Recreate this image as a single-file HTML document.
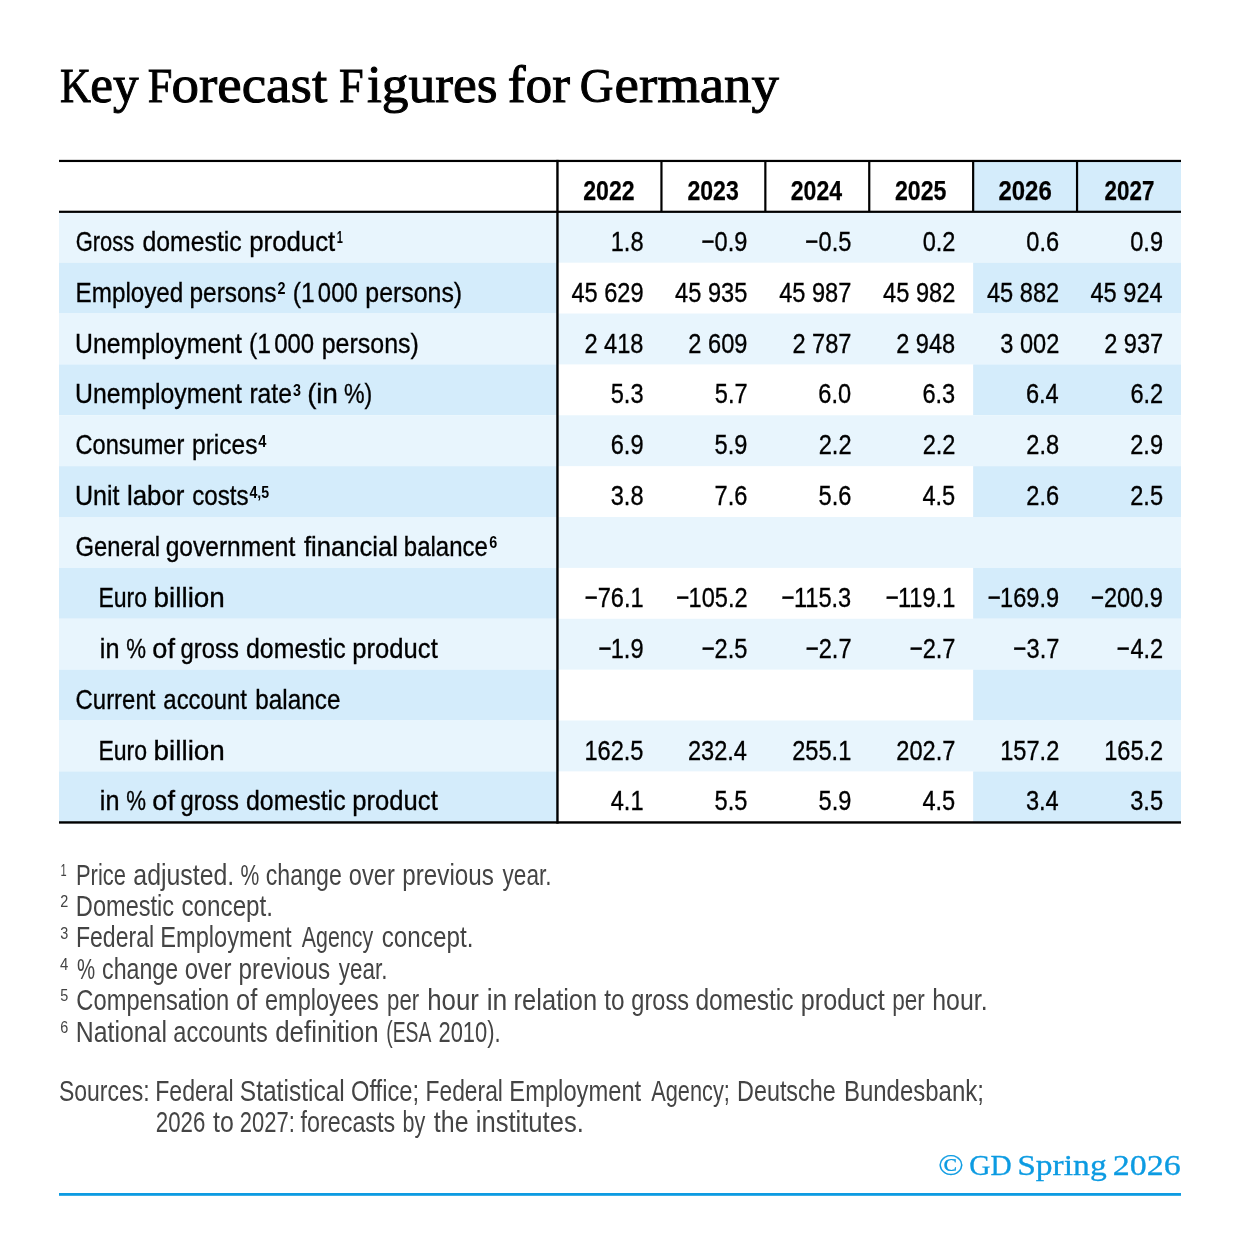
<!DOCTYPE html>
<html lang="en"><head><meta charset="utf-8"><title>Key Forecast Figures for Germany</title>
<style>
html,body{margin:0;padding:0;background:#fff}
body{width:1240px;height:1252px;position:relative;overflow:hidden;font-family:"Liberation Sans",sans-serif}
.b,.t{position:absolute}
.t{left:0;top:0;white-space:pre;line-height:0;height:0;transform-origin:0 0;color:#000}
.s{font-family:"Liberation Serif",serif}
#tx{position:absolute;left:0;top:0;width:1240px;height:1252px;will-change:transform}
</style></head><body>
<svg class="b" style="left:0;top:0" width="1240" height="1252" viewBox="0 0 1240 1252">
<rect x="973.15" y="160.95" width="207.85" height="50.85" fill="#d4ecfb"/>
<rect x="59" y="211.8" width="1122" height="50.87" fill="#e8f5fd"/>
<rect x="59" y="262.67" width="498.45" height="50.87" fill="#d4ecfb"/>
<rect x="973.15" y="262.67" width="207.85" height="50.87" fill="#d4ecfb"/>
<rect x="59" y="313.54" width="1122" height="50.87" fill="#e8f5fd"/>
<rect x="59" y="364.41" width="498.45" height="50.87" fill="#d4ecfb"/>
<rect x="973.15" y="364.41" width="207.85" height="50.87" fill="#d4ecfb"/>
<rect x="59" y="415.28" width="1122" height="50.87" fill="#e8f5fd"/>
<rect x="59" y="466.15" width="498.45" height="50.87" fill="#d4ecfb"/>
<rect x="973.15" y="466.15" width="207.85" height="50.87" fill="#d4ecfb"/>
<rect x="59" y="517.02" width="1122" height="50.87" fill="#e8f5fd"/>
<rect x="59" y="567.89" width="498.45" height="50.87" fill="#d4ecfb"/>
<rect x="973.15" y="567.89" width="207.85" height="50.87" fill="#d4ecfb"/>
<rect x="59" y="618.76" width="1122" height="50.87" fill="#e8f5fd"/>
<rect x="59" y="669.63" width="498.45" height="50.87" fill="#d4ecfb"/>
<rect x="973.15" y="669.63" width="207.85" height="50.87" fill="#d4ecfb"/>
<rect x="59" y="720.5" width="1122" height="50.87" fill="#e8f5fd"/>
<rect x="59" y="771.37" width="498.45" height="51.08" fill="#d4ecfb"/>
<rect x="973.15" y="771.37" width="207.85" height="51.08" fill="#d4ecfb"/>
<rect x="59" y="159.85" width="1122" height="2.2" fill="#000"/>
<rect x="59" y="210.7" width="1122" height="2.2" fill="#000"/>
<rect x="59" y="821.25" width="1122" height="2.4" fill="#000"/>
<rect x="556.25" y="159.85" width="2.4" height="663.8" fill="#000"/>
<rect x="660.35" y="160.95" width="2.2" height="50.85" fill="#000"/>
<rect x="764.25" y="160.95" width="2.2" height="50.85" fill="#000"/>
<rect x="868.15" y="160.95" width="2.2" height="50.85" fill="#000"/>
<rect x="972.05" y="160.95" width="2.2" height="50.85" fill="#000"/>
<rect x="1075.95" y="160.95" width="2.2" height="50.85" fill="#000"/>
<rect x="59" y="1193" width="1122" height="2.8" fill="#0c9be2"/>
</svg>
<div id="tx">
<div class="t s" style="font-size:48.2px;-webkit-text-stroke:0.9px currentColor;transform:translate(59.91px,86px) scaleX(0.8919)"><span class="v">K</span></div>
<div class="t s" style="font-size:48.2px;-webkit-text-stroke:0.9px currentColor;transform:translate(90.31px,84.24px) scale(1.0621,1.11)"><span class="v">ey</span></div>
<div class="t s" style="font-size:48.2px;-webkit-text-stroke:0.9px currentColor;transform:translate(147.83px,86px) scaleX(0.9184)"><span class="v">F</span></div>
<div class="t s" style="font-size:48.2px;-webkit-text-stroke:0.9px currentColor;transform:translate(171.57px,84.24px) scale(1.1402,1.11)"><span class="v">orecast</span></div>
<div class="t s" style="font-size:48.2px;-webkit-text-stroke:0.9px currentColor;transform:translate(339.08px,86px) scaleX(0.9184)"><span class="v">F</span></div>
<div class="t s" style="font-size:48.2px;-webkit-text-stroke:0.9px currentColor;transform:translate(366.95px,84.24px) scale(1.1099,1.11)"><span class="v">igures</span></div>
<div class="t s" style="font-size:48.2px;-webkit-text-stroke:0.9px currentColor;transform:translate(507.64px,84.24px) scale(1.1086,1.11)"><span class="v">for</span></div>
<div class="t s" style="font-size:48.2px;-webkit-text-stroke:0.9px currentColor;transform:translate(579.8px,86px) scaleX(0.9690)"><span class="v">G</span></div>
<div class="t s" style="font-size:48.2px;-webkit-text-stroke:0.9px currentColor;transform:translate(614.54px,84.24px) scale(1.1379,1.11)"><span class="v">ermany</span></div>
<div class="t" style="font-size:28.5px;font-weight:700;-webkit-text-stroke:0.25px currentColor;transform:translate(583.19px,190px) scaleX(0.8113)"><span class="v">2022</span></div>
<div class="t" style="font-size:28.5px;font-weight:700;-webkit-text-stroke:0.25px currentColor;transform:translate(687.39px,190px) scaleX(0.8097)"><span class="v">2023</span></div>
<div class="t" style="font-size:28.5px;font-weight:700;-webkit-text-stroke:0.25px currentColor;transform:translate(790.79px,190px) scaleX(0.8096)"><span class="v">2024</span></div>
<div class="t" style="font-size:28.5px;font-weight:700;-webkit-text-stroke:0.25px currentColor;transform:translate(894.94px,190px) scaleX(0.8113)"><span class="v">2025</span></div>
<div class="t" style="font-size:28.5px;font-weight:700;-webkit-text-stroke:0.25px currentColor;transform:translate(998.47px,190px) scaleX(0.8405)"><span class="v">2026</span></div>
<div class="t" style="font-size:28.5px;font-weight:700;-webkit-text-stroke:0.25px currentColor;transform:translate(1104.61px,190px) scaleX(0.7854)"><span class="v">2027</span></div>
<div class="t" style="font-size:28.5px;-webkit-text-stroke:0.35px currentColor;transform:translate(75.64px,241px) scaleX(0.7689)"><span class="v">Gross</span></div>
<div class="t" style="font-size:28.5px;-webkit-text-stroke:0.35px currentColor;transform:translate(142.53px,241px) scaleX(0.8702)"><span class="v">domestic</span></div>
<div class="t" style="font-size:28.5px;-webkit-text-stroke:0.35px currentColor;transform:translate(249.24px,241px) scaleX(0.9048)"><span class="v">product</span></div>
<div class="t" style="font-size:16.2px;font-weight:700;transform:translate(336.72px,237px) scaleX(0.6800)"><span class="v">1</span></div>
<div class="t" style="font-size:28.5px;-webkit-text-stroke:0.35px currentColor;transform:translate(75.59px,292px) scaleX(0.8497)"><span class="v">Employed</span></div>
<div class="t" style="font-size:28.5px;-webkit-text-stroke:0.35px currentColor;transform:translate(189.41px,292px) scaleX(0.8586)"><span class="v">persons</span></div>
<div class="t" style="font-size:16.2px;font-weight:700;transform:translate(277.46px,288px) scaleX(0.8875)"><span class="v">2</span></div>
<div class="t" style="font-size:28.5px;-webkit-text-stroke:0.35px currentColor;transform:translate(292.7px,292px) scaleX(0.8659)"><span class="v">(1</span></div>
<div class="t" style="font-size:28.5px;-webkit-text-stroke:0.35px currentColor;transform:translate(317.86px,292px) scaleX(0.8372)"><span class="v">000</span></div>
<div class="t" style="font-size:28.5px;-webkit-text-stroke:0.35px currentColor;transform:translate(365.29px,292px) scaleX(0.8733)"><span class="v">persons)</span></div>
<div class="t" style="font-size:28.5px;-webkit-text-stroke:0.35px currentColor;transform:translate(75.06px,343px) scaleX(0.8706)"><span class="v">Unemployment</span></div>
<div class="t" style="font-size:28.5px;-webkit-text-stroke:0.35px currentColor;transform:translate(248.99px,343px) scaleX(0.8703)"><span class="v">(1</span></div>
<div class="t" style="font-size:28.5px;-webkit-text-stroke:0.35px currentColor;transform:translate(274.16px,343px) scaleX(0.8393)"><span class="v">000</span></div>
<div class="t" style="font-size:28.5px;-webkit-text-stroke:0.35px currentColor;transform:translate(321.69px,343px) scaleX(0.8761)"><span class="v">persons)</span></div>
<div class="t" style="font-size:28.5px;-webkit-text-stroke:0.35px currentColor;transform:translate(75.06px,393px) scaleX(0.8706)"><span class="v">Unemployment</span></div>
<div class="t" style="font-size:28.5px;-webkit-text-stroke:0.35px currentColor;transform:translate(249.39px,393px) scaleX(0.8649)"><span class="v">rate</span></div>
<div class="t" style="font-size:16.2px;font-weight:700;transform:translate(292.98px,390px) scaleX(0.8848)"><span class="v">3</span></div>
<div class="t" style="font-size:28.5px;-webkit-text-stroke:0.35px currentColor;transform:translate(307.15px,393px) scaleX(0.9684)"><span class="v">(in</span></div>
<div class="t" style="font-size:28.5px;-webkit-text-stroke:0.35px currentColor;transform:translate(343.89px,393px) scaleX(0.8123)"><span class="v">%)</span></div>
<div class="t" style="font-size:28.5px;-webkit-text-stroke:0.35px currentColor;transform:translate(75.57px,444px) scaleX(0.8269)"><span class="v">Consumer</span></div>
<div class="t" style="font-size:28.5px;-webkit-text-stroke:0.35px currentColor;transform:translate(192.01px,444px) scaleX(0.8610)"><span class="v">prices</span></div>
<div class="t" style="font-size:16.2px;font-weight:700;transform:translate(258.27px,441px) scaleX(0.9029)"><span class="v">4</span></div>
<div class="t" style="font-size:28.5px;-webkit-text-stroke:0.35px currentColor;transform:translate(75.04px,495px) scaleX(0.8779)"><span class="v">Unit</span></div>
<div class="t" style="font-size:28.5px;-webkit-text-stroke:0.35px currentColor;transform:translate(126.91px,495px) scaleX(0.9078)"><span class="v">labor</span></div>
<div class="t" style="font-size:28.5px;-webkit-text-stroke:0.35px currentColor;transform:translate(192.15px,495px) scaleX(0.8479)"><span class="v">costs</span></div>
<div class="t" style="font-size:16.2px;font-weight:700;transform:translate(249.38px,492px) scaleX(0.8736)"><span class="v">4,5</span></div>
<div class="t" style="font-size:28.5px;-webkit-text-stroke:0.35px currentColor;transform:translate(75.46px,546px) scaleX(0.8345)"><span class="v">General</span></div>
<div class="t" style="font-size:28.5px;-webkit-text-stroke:0.35px currentColor;transform:translate(165.64px,546px) scaleX(0.8615)"><span class="v">government</span></div>
<div class="t" style="font-size:28.5px;-webkit-text-stroke:0.35px currentColor;transform:translate(303.98px,546px) scaleX(0.8983)"><span class="v">financial</span></div>
<div class="t" style="font-size:28.5px;-webkit-text-stroke:0.35px currentColor;transform:translate(403.83px,546px) scaleX(0.8423)"><span class="v">balance</span></div>
<div class="t" style="font-size:16.2px;font-weight:700;transform:translate(489.16px,542px) scaleX(0.8875)"><span class="v">6</span></div>
<div class="t" style="font-size:28.5px;-webkit-text-stroke:0.35px currentColor;transform:translate(98.38px,597px) scaleX(0.8088)"><span class="v">Euro</span></div>
<div class="t" style="font-size:28.5px;-webkit-text-stroke:0.35px currentColor;transform:translate(153.49px,597px) scaleX(0.9799)"><span class="v">billion</span></div>
<div class="t" style="font-size:28.5px;-webkit-text-stroke:0.35px currentColor;transform:translate(99.85px,648px) scaleX(0.8853)"><span class="v">in</span></div>
<div class="t" style="font-size:28.5px;-webkit-text-stroke:0.35px currentColor;transform:translate(126.32px,648px) scaleX(0.7789)"><span class="v">%</span></div>
<div class="t" style="font-size:28.5px;-webkit-text-stroke:0.35px currentColor;transform:translate(152.35px,648px) scaleX(0.9522)"><span class="v">of</span></div>
<div class="t" style="font-size:28.5px;-webkit-text-stroke:0.35px currentColor;transform:translate(180.56px,648px) scaleX(0.8354)"><span class="v">gross</span></div>
<div class="t" style="font-size:28.5px;-webkit-text-stroke:0.35px currentColor;transform:translate(246.03px,648px) scaleX(0.8729)"><span class="v">domestic</span></div>
<div class="t" style="font-size:28.5px;-webkit-text-stroke:0.35px currentColor;transform:translate(352.35px,648px) scaleX(0.8984)"><span class="v">product</span></div>
<div class="t" style="font-size:28.5px;-webkit-text-stroke:0.35px currentColor;transform:translate(75.55px,699px) scaleX(0.8395)"><span class="v">Current</span></div>
<div class="t" style="font-size:28.5px;-webkit-text-stroke:0.35px currentColor;transform:translate(163.36px,699px) scaleX(0.8375)"><span class="v">account</span></div>
<div class="t" style="font-size:28.5px;-webkit-text-stroke:0.35px currentColor;transform:translate(255.31px,699px) scaleX(0.8526)"><span class="v">balance</span></div>
<div class="t" style="font-size:28.5px;-webkit-text-stroke:0.35px currentColor;transform:translate(98.38px,750px) scaleX(0.8088)"><span class="v">Euro</span></div>
<div class="t" style="font-size:28.5px;-webkit-text-stroke:0.35px currentColor;transform:translate(153.49px,750px) scaleX(0.9799)"><span class="v">billion</span></div>
<div class="t" style="font-size:28.5px;-webkit-text-stroke:0.35px currentColor;transform:translate(99.85px,800px) scaleX(0.8853)"><span class="v">in</span></div>
<div class="t" style="font-size:28.5px;-webkit-text-stroke:0.35px currentColor;transform:translate(126.32px,800px) scaleX(0.7789)"><span class="v">%</span></div>
<div class="t" style="font-size:28.5px;-webkit-text-stroke:0.35px currentColor;transform:translate(152.35px,800px) scaleX(0.9522)"><span class="v">of</span></div>
<div class="t" style="font-size:28.5px;-webkit-text-stroke:0.35px currentColor;transform:translate(180.56px,800px) scaleX(0.8354)"><span class="v">gross</span></div>
<div class="t" style="font-size:28.5px;-webkit-text-stroke:0.35px currentColor;transform:translate(246.03px,800px) scaleX(0.8729)"><span class="v">domestic</span></div>
<div class="t" style="font-size:28.5px;-webkit-text-stroke:0.35px currentColor;transform:translate(352.35px,800px) scaleX(0.8984)"><span class="v">product</span></div>
<div class="t" style="font-size:28.5px;-webkit-text-stroke:0.35px currentColor;transform:translate(610.72px,241px) scaleX(0.8280)"><span class="v">1.8</span></div>
<div class="t" style="font-size:28.5px;-webkit-text-stroke:0.35px currentColor;transform:translate(714.62px,241px) scaleX(0.8280)"><span class="v">0.9</span></div>
<div class="t" style="font-size:28.5px;-webkit-text-stroke:0.35px currentColor;transform:translate(701.46px,241px) scaleX(0.7930)"><span class="v">−</span></div>
<div class="t" style="font-size:28.5px;-webkit-text-stroke:0.35px currentColor;transform:translate(818.52px,241px) scaleX(0.8280)"><span class="v">0.5</span></div>
<div class="t" style="font-size:28.5px;-webkit-text-stroke:0.35px currentColor;transform:translate(805.36px,241px) scaleX(0.7930)"><span class="v">−</span></div>
<div class="t" style="font-size:28.5px;-webkit-text-stroke:0.35px currentColor;transform:translate(922.63px,241px) scaleX(0.8280)"><span class="v">0.2</span></div>
<div class="t" style="font-size:28.5px;-webkit-text-stroke:0.35px currentColor;transform:translate(1026.32px,241px) scaleX(0.8280)"><span class="v">0.6</span></div>
<div class="t" style="font-size:28.5px;-webkit-text-stroke:0.35px currentColor;transform:translate(1130.22px,241px) scaleX(0.8280)"><span class="v">0.9</span></div>
<div class="t" style="font-size:28.5px;-webkit-text-stroke:0.35px currentColor;transform:translate(571.39px,292px) scaleX(0.8280)"><span class="v">45 629</span></div>
<div class="t" style="font-size:28.5px;-webkit-text-stroke:0.35px currentColor;transform:translate(675.09px,292px) scaleX(0.8280)"><span class="v">45 935</span></div>
<div class="t" style="font-size:28.5px;-webkit-text-stroke:0.35px currentColor;transform:translate(779.19px,292px) scaleX(0.8280)"><span class="v">45 987</span></div>
<div class="t" style="font-size:28.5px;-webkit-text-stroke:0.35px currentColor;transform:translate(883.09px,292px) scaleX(0.8280)"><span class="v">45 982</span></div>
<div class="t" style="font-size:28.5px;-webkit-text-stroke:0.35px currentColor;transform:translate(986.99px,292px) scaleX(0.8280)"><span class="v">45 882</span></div>
<div class="t" style="font-size:28.5px;-webkit-text-stroke:0.35px currentColor;transform:translate(1090.48px,292px) scaleX(0.8280)"><span class="v">45 924</span></div>
<div class="t" style="font-size:28.5px;-webkit-text-stroke:0.35px currentColor;transform:translate(584.43px,343px) scaleX(0.8280)"><span class="v">2 418</span></div>
<div class="t" style="font-size:28.5px;-webkit-text-stroke:0.35px currentColor;transform:translate(688.33px,343px) scaleX(0.8280)"><span class="v">2 609</span></div>
<div class="t" style="font-size:28.5px;-webkit-text-stroke:0.35px currentColor;transform:translate(792.44px,343px) scaleX(0.8280)"><span class="v">2 787</span></div>
<div class="t" style="font-size:28.5px;-webkit-text-stroke:0.35px currentColor;transform:translate(896.13px,343px) scaleX(0.8280)"><span class="v">2 948</span></div>
<div class="t" style="font-size:28.5px;-webkit-text-stroke:0.35px currentColor;transform:translate(1000.24px,343px) scaleX(0.8280)"><span class="v">3 002</span></div>
<div class="t" style="font-size:28.5px;-webkit-text-stroke:0.35px currentColor;transform:translate(1104.14px,343px) scaleX(0.8280)"><span class="v">2 937</span></div>
<div class="t" style="font-size:28.5px;-webkit-text-stroke:0.35px currentColor;transform:translate(610.72px,393px) scaleX(0.8280)"><span class="v">5.3</span></div>
<div class="t" style="font-size:28.5px;-webkit-text-stroke:0.35px currentColor;transform:translate(714.83px,393px) scaleX(0.8280)"><span class="v">5.7</span></div>
<div class="t" style="font-size:28.5px;-webkit-text-stroke:0.35px currentColor;transform:translate(818.32px,393px) scaleX(0.8280)"><span class="v">6.0</span></div>
<div class="t" style="font-size:28.5px;-webkit-text-stroke:0.35px currentColor;transform:translate(922.42px,393px) scaleX(0.8280)"><span class="v">6.3</span></div>
<div class="t" style="font-size:28.5px;-webkit-text-stroke:0.35px currentColor;transform:translate(1025.91px,393px) scaleX(0.8280)"><span class="v">6.4</span></div>
<div class="t" style="font-size:28.5px;-webkit-text-stroke:0.35px currentColor;transform:translate(1130.43px,393px) scaleX(0.8280)"><span class="v">6.2</span></div>
<div class="t" style="font-size:28.5px;-webkit-text-stroke:0.35px currentColor;transform:translate(610.72px,444px) scaleX(0.8280)"><span class="v">6.9</span></div>
<div class="t" style="font-size:28.5px;-webkit-text-stroke:0.35px currentColor;transform:translate(714.62px,444px) scaleX(0.8280)"><span class="v">5.9</span></div>
<div class="t" style="font-size:28.5px;-webkit-text-stroke:0.35px currentColor;transform:translate(818.73px,444px) scaleX(0.8280)"><span class="v">2.2</span></div>
<div class="t" style="font-size:28.5px;-webkit-text-stroke:0.35px currentColor;transform:translate(922.63px,444px) scaleX(0.8280)"><span class="v">2.2</span></div>
<div class="t" style="font-size:28.5px;-webkit-text-stroke:0.35px currentColor;transform:translate(1026.32px,444px) scaleX(0.8280)"><span class="v">2.8</span></div>
<div class="t" style="font-size:28.5px;-webkit-text-stroke:0.35px currentColor;transform:translate(1130.22px,444px) scaleX(0.8280)"><span class="v">2.9</span></div>
<div class="t" style="font-size:28.5px;-webkit-text-stroke:0.35px currentColor;transform:translate(610.72px,495px) scaleX(0.8280)"><span class="v">3.8</span></div>
<div class="t" style="font-size:28.5px;-webkit-text-stroke:0.35px currentColor;transform:translate(714.62px,495px) scaleX(0.8280)"><span class="v">7.6</span></div>
<div class="t" style="font-size:28.5px;-webkit-text-stroke:0.35px currentColor;transform:translate(818.52px,495px) scaleX(0.8280)"><span class="v">5.6</span></div>
<div class="t" style="font-size:28.5px;-webkit-text-stroke:0.35px currentColor;transform:translate(922.42px,495px) scaleX(0.8280)"><span class="v">4.5</span></div>
<div class="t" style="font-size:28.5px;-webkit-text-stroke:0.35px currentColor;transform:translate(1026.32px,495px) scaleX(0.8280)"><span class="v">2.6</span></div>
<div class="t" style="font-size:28.5px;-webkit-text-stroke:0.35px currentColor;transform:translate(1130.22px,495px) scaleX(0.8280)"><span class="v">2.5</span></div>
<div class="t" style="font-size:28.5px;-webkit-text-stroke:0.35px currentColor;transform:translate(597.68px,597px) scaleX(0.8280)"><span class="v">76.1</span></div>
<div class="t" style="font-size:28.5px;-webkit-text-stroke:0.35px currentColor;transform:translate(584.72px,597px) scaleX(0.7930)"><span class="v">−</span></div>
<div class="t" style="font-size:28.5px;-webkit-text-stroke:0.35px currentColor;transform:translate(688.54px,597px) scaleX(0.8280)"><span class="v">105.2</span></div>
<div class="t" style="font-size:28.5px;-webkit-text-stroke:0.35px currentColor;transform:translate(676.2px,597px) scaleX(0.7930)"><span class="v">−</span></div>
<div class="t" style="font-size:28.5px;-webkit-text-stroke:0.35px currentColor;transform:translate(793.89px,597px) scaleX(0.8280)"><span class="v">115.3</span></div>
<div class="t" style="font-size:28.5px;-webkit-text-stroke:0.35px currentColor;transform:translate(781.55px,597px) scaleX(0.7930)"><span class="v">−</span></div>
<div class="t" style="font-size:28.5px;-webkit-text-stroke:0.35px currentColor;transform:translate(898px,597px) scaleX(0.8280)"><span class="v">119.1</span></div>
<div class="t" style="font-size:28.5px;-webkit-text-stroke:0.35px currentColor;transform:translate(885.66px,597px) scaleX(0.7930)"><span class="v">−</span></div>
<div class="t" style="font-size:28.5px;-webkit-text-stroke:0.35px currentColor;transform:translate(1000.03px,597px) scaleX(0.8280)"><span class="v">169.9</span></div>
<div class="t" style="font-size:28.5px;-webkit-text-stroke:0.35px currentColor;transform:translate(987.7px,597px) scaleX(0.7930)"><span class="v">−</span></div>
<div class="t" style="font-size:28.5px;-webkit-text-stroke:0.35px currentColor;transform:translate(1103.93px,597px) scaleX(0.8280)"><span class="v">200.9</span></div>
<div class="t" style="font-size:28.5px;-webkit-text-stroke:0.35px currentColor;transform:translate(1090.98px,597px) scaleX(0.7930)"><span class="v">−</span></div>
<div class="t" style="font-size:28.5px;-webkit-text-stroke:0.35px currentColor;transform:translate(610.72px,648px) scaleX(0.8280)"><span class="v">1.9</span></div>
<div class="t" style="font-size:28.5px;-webkit-text-stroke:0.35px currentColor;transform:translate(598.39px,648px) scaleX(0.7930)"><span class="v">−</span></div>
<div class="t" style="font-size:28.5px;-webkit-text-stroke:0.35px currentColor;transform:translate(714.62px,648px) scaleX(0.8280)"><span class="v">2.5</span></div>
<div class="t" style="font-size:28.5px;-webkit-text-stroke:0.35px currentColor;transform:translate(701.67px,648px) scaleX(0.7930)"><span class="v">−</span></div>
<div class="t" style="font-size:28.5px;-webkit-text-stroke:0.35px currentColor;transform:translate(818.73px,648px) scaleX(0.8280)"><span class="v">2.7</span></div>
<div class="t" style="font-size:28.5px;-webkit-text-stroke:0.35px currentColor;transform:translate(805.77px,648px) scaleX(0.7930)"><span class="v">−</span></div>
<div class="t" style="font-size:28.5px;-webkit-text-stroke:0.35px currentColor;transform:translate(922.63px,648px) scaleX(0.8280)"><span class="v">2.7</span></div>
<div class="t" style="font-size:28.5px;-webkit-text-stroke:0.35px currentColor;transform:translate(909.67px,648px) scaleX(0.7930)"><span class="v">−</span></div>
<div class="t" style="font-size:28.5px;-webkit-text-stroke:0.35px currentColor;transform:translate(1026.53px,648px) scaleX(0.8280)"><span class="v">3.7</span></div>
<div class="t" style="font-size:28.5px;-webkit-text-stroke:0.35px currentColor;transform:translate(1013.37px,648px) scaleX(0.7930)"><span class="v">−</span></div>
<div class="t" style="font-size:28.5px;-webkit-text-stroke:0.35px currentColor;transform:translate(1130.43px,648px) scaleX(0.8280)"><span class="v">4.2</span></div>
<div class="t" style="font-size:28.5px;-webkit-text-stroke:0.35px currentColor;transform:translate(1116.85px,648px) scaleX(0.7930)"><span class="v">−</span></div>
<div class="t" style="font-size:28.5px;-webkit-text-stroke:0.35px currentColor;transform:translate(584.43px,750px) scaleX(0.8280)"><span class="v">162.5</span></div>
<div class="t" style="font-size:28.5px;-webkit-text-stroke:0.35px currentColor;transform:translate(687.92px,750px) scaleX(0.8280)"><span class="v">232.4</span></div>
<div class="t" style="font-size:28.5px;-webkit-text-stroke:0.35px currentColor;transform:translate(792.23px,750px) scaleX(0.8280)"><span class="v">255.1</span></div>
<div class="t" style="font-size:28.5px;-webkit-text-stroke:0.35px currentColor;transform:translate(896.34px,750px) scaleX(0.8280)"><span class="v">202.7</span></div>
<div class="t" style="font-size:28.5px;-webkit-text-stroke:0.35px currentColor;transform:translate(1000.24px,750px) scaleX(0.8280)"><span class="v">157.2</span></div>
<div class="t" style="font-size:28.5px;-webkit-text-stroke:0.35px currentColor;transform:translate(1104.14px,750px) scaleX(0.8280)"><span class="v">165.2</span></div>
<div class="t" style="font-size:28.5px;-webkit-text-stroke:0.35px currentColor;transform:translate(610.72px,800px) scaleX(0.8280)"><span class="v">4.1</span></div>
<div class="t" style="font-size:28.5px;-webkit-text-stroke:0.35px currentColor;transform:translate(714.62px,800px) scaleX(0.8280)"><span class="v">5.5</span></div>
<div class="t" style="font-size:28.5px;-webkit-text-stroke:0.35px currentColor;transform:translate(818.52px,800px) scaleX(0.8280)"><span class="v">5.9</span></div>
<div class="t" style="font-size:28.5px;-webkit-text-stroke:0.35px currentColor;transform:translate(922.42px,800px) scaleX(0.8280)"><span class="v">4.5</span></div>
<div class="t" style="font-size:28.5px;-webkit-text-stroke:0.35px currentColor;transform:translate(1025.91px,800px) scaleX(0.8280)"><span class="v">3.4</span></div>
<div class="t" style="font-size:28.5px;-webkit-text-stroke:0.35px currentColor;transform:translate(1130.22px,800px) scaleX(0.8280)"><span class="v">3.5</span></div>
<div class="t" style="font-size:16.7px;color:#444;transform:translate(60.47px,871px) scaleX(0.6621)"><span class="v">1</span></div>
<div class="t" style="font-size:28.7px;color:#444;transform:translate(75.98px,875px) scaleX(0.7644)"><span class="v">Price</span></div>
<div class="t" style="font-size:28.7px;color:#444;transform:translate(133.32px,875px) scaleX(0.8667)"><span class="v">adjusted.</span></div>
<div class="t" style="font-size:28.7px;color:#444;transform:translate(240.56px,875px) scaleX(0.7362)"><span class="v">%</span></div>
<div class="t" style="font-size:28.7px;color:#444;transform:translate(265.79px,875px) scaleX(0.8076)"><span class="v">change</span></div>
<div class="t" style="font-size:28.7px;color:#444;transform:translate(348.87px,875px) scaleX(0.8241)"><span class="v">over</span></div>
<div class="t" style="font-size:28.7px;color:#444;transform:translate(402.32px,875px) scaleX(0.8444)"><span class="v">previous</span></div>
<div class="t" style="font-size:28.7px;color:#444;transform:translate(502.5px,875px) scaleX(0.7883)"><span class="v">year.</span></div>
<div class="t" style="font-size:16.7px;color:#444;transform:translate(60.35px,902px) scaleX(0.8645)"><span class="v">2</span></div>
<div class="t" style="font-size:28.7px;color:#444;transform:translate(75.85px,906px) scaleX(0.8223)"><span class="v">Domestic</span></div>
<div class="t" style="font-size:28.7px;color:#444;transform:translate(181.44px,906px) scaleX(0.8449)"><span class="v">concept.</span></div>
<div class="t" style="font-size:16.7px;color:#444;transform:translate(60.35px,934px) scaleX(0.8645)"><span class="v">3</span></div>
<div class="t" style="font-size:28.7px;color:#444;transform:translate(75.89px,937px) scaleX(0.8043)"><span class="v">Federal</span></div>
<div class="t" style="font-size:28.7px;color:#444;transform:translate(160.14px,937px) scaleX(0.8248)"><span class="v">Employment</span></div>
<div class="t" style="font-size:28.7px;color:#444;transform:translate(301.8px,937px) scaleX(0.7455)"><span class="v">Agency</span></div>
<div class="t" style="font-size:28.7px;color:#444;transform:translate(381.74px,937px) scaleX(0.8449)"><span class="v">concept.</span></div>
<div class="t" style="font-size:16.7px;color:#444;transform:translate(60.08px,965px) scaleX(0.8941)"><span class="v">4</span></div>
<div class="t" style="font-size:28.7px;color:#444;transform:translate(76.89px,969px) scaleX(0.7106)"><span class="v">%</span></div>
<div class="t" style="font-size:28.7px;color:#444;transform:translate(102.09px,969px) scaleX(0.8076)"><span class="v">change</span></div>
<div class="t" style="font-size:28.7px;color:#444;transform:translate(184.75px,969px) scaleX(0.8370)"><span class="v">over</span></div>
<div class="t" style="font-size:28.7px;color:#444;transform:translate(238.62px,969px) scaleX(0.8444)"><span class="v">previous</span></div>
<div class="t" style="font-size:28.7px;color:#444;transform:translate(338.8px,969px) scaleX(0.7833)"><span class="v">year.</span></div>
<div class="t" style="font-size:16.7px;color:#444;transform:translate(60.35px,996px) scaleX(0.8645)"><span class="v">5</span></div>
<div class="t" style="font-size:28.7px;color:#444;transform:translate(76.36px,1000px) scaleX(0.8264)"><span class="v">Compensation</span></div>
<div class="t" style="font-size:28.7px;color:#444;transform:translate(236.09px,1000px) scaleX(0.8879)"><span class="v">of</span></div>
<div class="t" style="font-size:28.7px;color:#444;transform:translate(264.98px,1000px) scaleX(0.8198)"><span class="v">employees</span></div>
<div class="t" style="font-size:28.7px;color:#444;transform:translate(387.04px,1000px) scaleX(0.7745)"><span class="v">per</span></div>
<div class="t" style="font-size:28.7px;color:#444;transform:translate(427.2px,1000px) scaleX(0.9000)"><span class="v">hour</span></div>
<div class="t" style="font-size:28.7px;color:#444;transform:translate(486.65px,1000px) scaleX(0.9243)"><span class="v">in</span></div>
<div class="t" style="font-size:28.7px;color:#444;transform:translate(513.62px,1000px) scaleX(0.8886)"><span class="v">relation</span></div>
<div class="t" style="font-size:28.7px;color:#444;transform:translate(604.18px,1000px) scaleX(0.8494)"><span class="v">to</span></div>
<div class="t" style="font-size:28.7px;color:#444;transform:translate(631.37px,1000px) scaleX(0.8206)"><span class="v">gross</span></div>
<div class="t" style="font-size:28.7px;color:#444;transform:translate(695.43px,1000px) scaleX(0.8550)"><span class="v">domestic</span></div>
<div class="t" style="font-size:28.7px;color:#444;transform:translate(800.76px,1000px) scaleX(0.8779)"><span class="v">product</span></div>
<div class="t" style="font-size:28.7px;color:#444;transform:translate(892.33px,1000px) scaleX(0.7847)"><span class="v">per</span></div>
<div class="t" style="font-size:28.7px;color:#444;transform:translate(932.26px,1000px) scaleX(0.8675)"><span class="v">hour.</span></div>
<div class="t" style="font-size:16.7px;color:#444;transform:translate(60.35px,1028px) scaleX(0.8645)"><span class="v">6</span></div>
<div class="t" style="font-size:28.7px;color:#444;transform:translate(75.75px,1032px) scaleX(0.8663)"><span class="v">National</span></div>
<div class="t" style="font-size:28.7px;color:#444;transform:translate(173.27px,1032px) scaleX(0.8222)"><span class="v">accounts</span></div>
<div class="t" style="font-size:28.7px;color:#444;transform:translate(275.17px,1032px) scaleX(0.9020)"><span class="v">definition</span></div>
<div class="t" style="font-size:28.7px;color:#444;transform:translate(386.22px,1032px) scaleX(0.6743)"><span class="v">(ESA</span></div>
<div class="t" style="font-size:28.7px;color:#444;transform:translate(438.45px,1032px) scaleX(0.7638)"><span class="v">2010).</span></div>
<div class="t" style="font-size:28.7px;color:#444;transform:translate(58.9px,1091px) scaleX(0.8009)"><span class="v">Sources:</span></div>
<div class="t" style="font-size:28.7px;color:#444;transform:translate(155.19px,1091px) scaleX(0.8054)"><span class="v">Federal</span></div>
<div class="t" style="font-size:28.7px;color:#444;transform:translate(239.83px,1091px) scaleX(0.8544)"><span class="v">Statistical</span></div>
<div class="t" style="font-size:28.7px;color:#444;transform:translate(350.96px,1091px) scaleX(0.8280)"><span class="v">Office;</span></div>
<div class="t" style="font-size:28.7px;color:#444;transform:translate(425.51px,1091px) scaleX(0.7957)"><span class="v">Federal</span></div>
<div class="t" style="font-size:28.7px;color:#444;transform:translate(509.34px,1091px) scaleX(0.8268)"><span class="v">Employment</span></div>
<div class="t" style="font-size:28.7px;color:#444;transform:translate(651.2px,1091px) scaleX(0.7584)"><span class="v">Agency;</span></div>
<div class="t" style="font-size:28.7px;color:#444;transform:translate(737.07px,1091px) scaleX(0.8136)"><span class="v">Deutsche</span></div>
<div class="t" style="font-size:28.7px;color:#444;transform:translate(843.92px,1091px) scaleX(0.8356)"><span class="v">Bundesbank;</span></div>
<div class="t" style="font-size:28.7px;color:#444;transform:translate(155.84px,1122px) scaleX(0.7754)"><span class="v">2026</span></div>
<div class="t" style="font-size:28.7px;color:#444;transform:translate(212.97px,1122px) scaleX(0.8674)"><span class="v">to</span></div>
<div class="t" style="font-size:28.7px;color:#444;transform:translate(239.75px,1122px) scaleX(0.7661)"><span class="v">2027:</span></div>
<div class="t" style="font-size:28.7px;color:#444;transform:translate(300.59px,1122px) scaleX(0.8122)"><span class="v">forecasts</span></div>
<div class="t" style="font-size:28.7px;color:#444;transform:translate(402.49px,1122px) scaleX(0.7509)"><span class="v">by</span></div>
<div class="t" style="font-size:28.7px;color:#444;transform:translate(433.86px,1122px) scaleX(0.8706)"><span class="v">the</span></div>
<div class="t" style="font-size:28.7px;color:#444;transform:translate(475.72px,1122px) scaleX(0.8918)"><span class="v">institutes.</span></div>
<div class="t s" style="font-size:30px;color:#0c9be2;-webkit-text-stroke:0.3px currentColor;transform:translate(938.29px,1165px) scaleX(1.1133)"><span class="v">©</span></div>
<div class="t s" style="font-size:30px;color:#0c9be2;-webkit-text-stroke:0.3px currentColor;transform:translate(969.32px,1165px) scaleX(0.9794)"><span class="v">GD</span></div>
<div class="t s" style="font-size:30px;color:#0c9be2;-webkit-text-stroke:0.3px currentColor;transform:translate(1017.14px,1165px) scaleX(1.1190)"><span class="v">Spring</span></div>
<div class="t s" style="font-size:30px;color:#0c9be2;-webkit-text-stroke:0.3px currentColor;transform:translate(1112.68px,1165px) scaleX(1.1345)"><span class="v">2026</span></div>
</div>
</body></html>
